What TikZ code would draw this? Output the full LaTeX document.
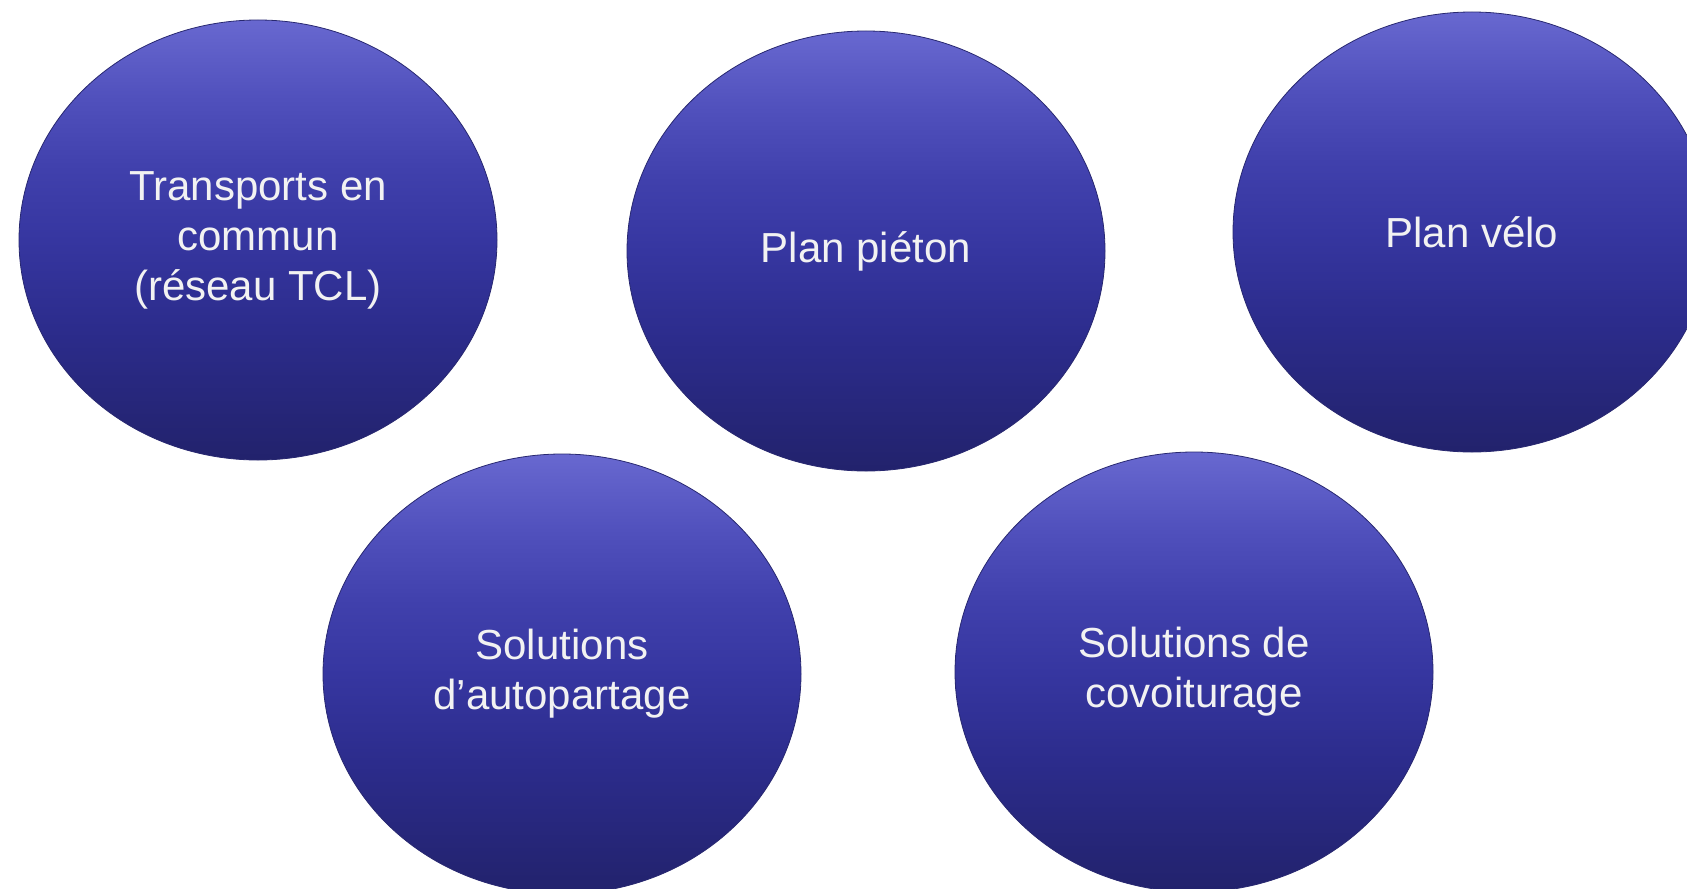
\documentclass[tikz,border=0pt]{standalone}
\usepackage{fontspec}
\setmainfont{Liberation Sans}
\usetikzlibrary{shapes.geometric}
\definecolor{topblue}{RGB}{104,104,208}
\definecolor{upblue}{RGB}{80,80,188}
\definecolor{hiblue}{RGB}{64,64,172}
\definecolor{midblue}{RGB}{54,54,160}
\definecolor{lowblue}{RGB}{44,44,140}
\definecolor{botblue}{RGB}{34,34,108}
\definecolor{edgeblue}{RGB}{40,40,112}
\definecolor{txtwhite}{RGB}{242,242,242}
\pgfdeclareverticalshading{bubbleshade}{100bp}{color(0bp)=(botblue); color(25bp)=(botblue); color(40bp)=(lowblue); color(50bp)=(midblue); color(58bp)=(hiblue); color(66bp)=(upblue); color(75bp)=(topblue); color(100bp)=(topblue)}
\tikzset{
  bubble/.style={ellipse, inner sep=0pt, minimum width=478bp, minimum height=440bp,
    shading=bubbleshade,
    draw=edgeblue, line width=0.8bp,
    text=txtwhite, align=center, font=\fontsize{42bp}{50bp}\selectfont}
}
\begin{document}
\begin{tikzpicture}[x=1bp,y=-1bp]
\useasboundingbox (0,0) rectangle (1687,888);
\clip (0,0) rectangle (1687,888);
\node[bubble] (tcl) at (258,240) {Transports en\\commun\\(réseau TCL)};
\node[bubble] (pieton) at (866,251) {Plan piéton};
\node[bubble] (velo) at (1472,232) {Plan vélo};
\node[bubble] (auto) at (562,674) {Solutions\\d’autopartage};
\node[bubble] (covoit) at (1194,672) {Solutions de\\covoiturage};
\end{tikzpicture}
\end{document}
